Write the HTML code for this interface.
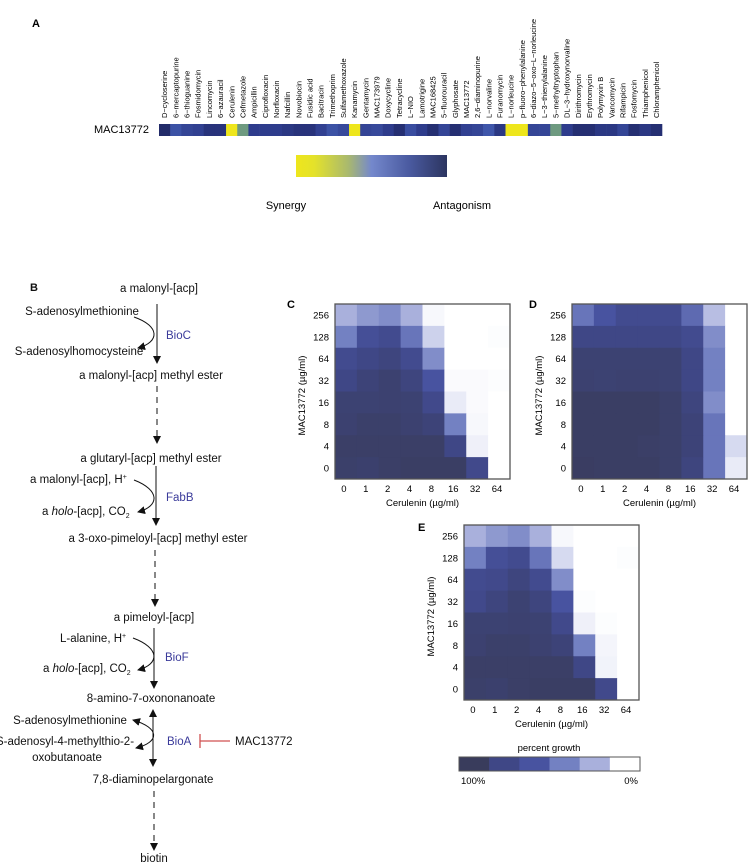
<!DOCTYPE html>
<html><head><meta charset="utf-8"><style>
html,body{margin:0;padding:0;background:#fff;}
svg{display:block;font-family:"Liberation Sans",Arial,sans-serif;}
</style></head><body>
<svg id="fig" width="748" height="867" viewBox="0 0 748 867" xmlns="http://www.w3.org/2000/svg">
<defs>
<linearGradient id="cbar" x1="0" x2="1" y1="0" y2="0">
<stop offset="0" stop-color="#eee61c"/><stop offset="0.12" stop-color="#e4e22a"/><stop offset="0.35" stop-color="#a8b870"/><stop offset="0.5" stop-color="#7488cc"/><stop offset="0.75" stop-color="#4a5aa0"/><stop offset="1" stop-color="#2c3560"/>
</linearGradient>
<marker id="ah" markerWidth="8" markerHeight="8" refX="7" refY="4" orient="auto" markerUnits="userSpaceOnUse"><path d="M0,0 L8,4 L0,8 z" fill="#111"/></marker>
<marker id="ahs" markerWidth="8" markerHeight="8" refX="7" refY="4" orient="auto-start-reverse" markerUnits="userSpaceOnUse"><path d="M0,0 L8,4 L0,8 z" fill="#111"/></marker>
</defs>
<g id="panelA">
<text x="32" y="27" font-size="11" font-weight="bold">A</text>
<text x="149" y="133" font-size="11" text-anchor="end">MAC13772</text>
<g id="strip"></g>
<g id="druglabels"></g>
<rect x="296" y="155" width="151" height="22" fill="url(#cbar)"/>
<text x="286" y="209" font-size="11" text-anchor="middle">Synergy</text>
<text x="462" y="209" font-size="11" text-anchor="middle">Antagonism</text>
</g>
<g id="panelB" font-size="11.5" fill="#111">
<text x="30" y="291" font-size="11" font-weight="bold">B</text>
<text x="159" y="292" text-anchor="middle">a malonyl-[acp]</text>
<text x="82" y="315" text-anchor="middle">S-adenosylmethionine</text>
<text x="166" y="339" fill="#3a3a9a">BioC</text>
<text x="79" y="355" text-anchor="middle">S-adenosylhomocysteine</text>
<line x1="157" y1="304" x2="157" y2="363" stroke="#111" stroke-width="1" marker-end="url(#ah)"/>
<path d="M134,317 C160,326 160,342 138,348" fill="none" stroke="#111" stroke-width="1" marker-end="url(#ah)"/>
<text x="151" y="379" text-anchor="middle">a malonyl-[acp] methyl ester</text>
<line x1="157" y1="386" x2="157" y2="443" stroke="#111" stroke-width="1" stroke-dasharray="6,5" marker-end="url(#ah)"/>
<text x="151" y="462" text-anchor="middle">a glutaryl-[acp] methyl ester</text>
<text x="30" y="483">a malonyl-[acp], H<tspan font-size="7" dy="-4">+</tspan></text>
<text x="166" y="501" fill="#3a3a9a">FabB</text>
<text x="42" y="515">a <tspan font-style="italic">holo</tspan>-[acp], CO<tspan font-size="7" dy="3">2</tspan></text>
<line x1="156" y1="466" x2="156" y2="525" stroke="#111" stroke-width="1" marker-end="url(#ah)"/>
<path d="M134,480 C160,490 160,506 138,512" fill="none" stroke="#111" stroke-width="1" marker-end="url(#ah)"/>
<text x="158" y="542" text-anchor="middle">a 3-oxo-pimeloyl-[acp] methyl ester</text>
<line x1="155" y1="550" x2="155" y2="606" stroke="#111" stroke-width="1" stroke-dasharray="6,5" marker-end="url(#ah)"/>
<text x="154" y="621" text-anchor="middle">a pimeloyl-[acp]</text>
<text x="60" y="642">L-alanine, H<tspan font-size="7" dy="-4">+</tspan></text>
<text x="165" y="661" fill="#3a3a9a">BioF</text>
<text x="43" y="672">a <tspan font-style="italic">holo</tspan>-[acp], CO<tspan font-size="7" dy="3">2</tspan></text>
<line x1="154" y1="628" x2="154" y2="688" stroke="#111" stroke-width="1" marker-end="url(#ah)"/>
<path d="M133,638 C160,648 160,664 138,670" fill="none" stroke="#111" stroke-width="1" marker-end="url(#ah)"/>
<text x="151" y="702" text-anchor="middle">8-amino-7-oxononanoate</text>
<text x="70" y="724" text-anchor="middle">S-adenosylmethionine</text>
<text x="65" y="745" text-anchor="middle">S-adenosyl-4-methylthio-2-</text>
<text x="67" y="761" text-anchor="middle">oxobutanoate</text>
<text x="167" y="745" fill="#3a3a9a">BioA</text>
<line x1="153" y1="710" x2="153" y2="766" stroke="#111" stroke-width="1" marker-start="url(#ahs)" marker-end="url(#ah)"/>
<path d="M133,720 C160,728 160,742 136,748" fill="none" stroke="#111" stroke-width="1" marker-start="url(#ahs)" marker-end="url(#ah)"/>
<line x1="200" y1="741" x2="230" y2="741" stroke="#d05050" stroke-width="1.3"/>
<line x1="200" y1="734" x2="200" y2="748" stroke="#d05050" stroke-width="1.3"/>
<text x="235" y="745">MAC13772</text>
<text x="153" y="783" text-anchor="middle">7,8-diaminopelargonate</text>
<line x1="154" y1="791" x2="154" y2="850" stroke="#111" stroke-width="1" stroke-dasharray="6,5" marker-end="url(#ah)"/>
<text x="154" y="862" text-anchor="middle">biotin</text>
</g>
<g id="heatC"></g>
<g id="heatD"></g>
<g id="heatE"></g>
<g id="legendE">
<text x="549" y="751" font-size="9.5" text-anchor="middle">percent growth</text>
<g id="legSw"></g>
<text x="461" y="784" font-size="9.5">100%</text>
<text x="638" y="784" font-size="9.5" text-anchor="end">0%</text>
</g>
</svg>
<script>
// ---- Panel A data ----
const drugs = ["D−cycloserine","6−mercaptopurine","6−thioguanine","Fosmidomycin","Lincomycin","6−azauracil","Cerulenin","Cefmetazole","Ampicillin","Ciprofloxacin","Norfloxacin","Nafcillin","Novobiocin","Fusidic acid","Bacitracin","Trimethoprim","Sulfamethoxazole","Kanamycin","Gentamycin","MAC173979","Doxycycline","Tetracycline","L−NIO","Lamotrigine","MAC168425","5−fluorouracil","Glyphosate","MAC13772","2,6−diaminopurine","L−norvaline","Furanomycin","L−norleucine","p−fluoro−phenylalanine","6−diazo−5−oxo−L−norleucine","L−3−thienylalanine","5−methyltryptophan","DL−3−hydroxynorvaline","Dirithromycin","Erythromycin","Polymyxin B","Vancomycin","Rifampicin","Fosfomycin","Thiamphenicol","Chloramphenicol"];
const interaction = [0.9,0.45,0.6,0.65,0.8,0.8,-1,-0.3,0.7,0.7,0.7,0.75,0.8,0.8,0.65,0.45,0.55,-1,0.6,0.55,0.7,0.85,0.5,0.7,0.85,0.6,0.85,0.65,0.6,0.4,0.75,-1,-1,0.6,0.6,-0.3,0.7,0.85,0.85,0.75,0.75,0.6,0.85,0.75,0.85];
// ---- Checkerboard data (rows top->bottom = MAC13772 256..0; cols = cerulenin 0..64) ----
const rowLabels = ["256","128","64","32","16","8","4","0"];
const colLabels = ["0","1","2","4","8","16","32","64"];
const growthC = [
[.30,.40,.45,.30,.03,0,0,0],
[.50,.75,.80,.55,.18,0,0,.01],
[.80,.85,.88,.80,.45,0,0,0],
[.85,.90,.93,.88,.70,.02,.02,.01],
[.92,.92,.93,.92,.82,.08,.02,0],
[.93,.95,.95,.93,.90,.50,.03,0],
[.96,.96,.96,.96,.96,.85,.06,0],
[.95,.94,.96,.97,.97,.97,.82,0]];
const growthD = [
[.55,.70,.80,.80,.80,.60,.25,0],
[.85,.85,.85,.85,.85,.80,.45,0],
[.92,.92,.92,.92,.92,.85,.50,0],
[.93,.92,.93,.93,.92,.85,.50,0],
[.97,.97,.97,.97,.95,.88,.45,0],
[.97,.97,.97,.97,.95,.90,.55,0],
[.97,.97,.97,.96,.95,.90,.55,.15],
[.98,.97,.97,.97,.95,.88,.55,.08]];
const growthE = [
[.30,.40,.45,.30,.03,0,0,0],
[.50,.75,.80,.55,.15,0,0,.01],
[.80,.82,.88,.80,.45,0,0,0],
[.82,.88,.92,.88,.70,.01,0,0],
[.92,.92,.93,.92,.82,.06,.01,0],
[.93,.95,.95,.93,.90,.50,.04,0],
[.96,.96,.96,.96,.96,.85,.05,0],
[.95,.94,.96,.97,.97,.97,.82,0]];
const legendLevels = [1.0,0.85,0.7,0.5,0.3,0];

const NS="http://www.w3.org/2000/svg";
function mk(tag,attrs,parent){const e=document.createElementNS(NS,tag);for(const k in attrs)e.setAttribute(k,attrs[k]);parent.appendChild(e);return e;}
function hex(h){return [parseInt(h.slice(1,3),16),parseInt(h.slice(3,5),16),parseInt(h.slice(5,7),16)];}
function interp(stops,v){
  if(v<=stops[0][0])return stops[0][1];
  for(let i=1;i<stops.length;i++){if(v<=stops[i][0]){const a=stops[i-1],b=stops[i];const t=(v-a[0])/(b[0]-a[0]);const c1=hex(a[1]),c2=hex(b[1]);return "rgb("+c1.map((c,j)=>Math.round(c+(c2[j]-c)*t)).join(",")+")";}}
  return stops[stops.length-1][1];
}
const stripStops=[[-1,"#eee61c"],[-0.6,"#c6cc4c"],[-0.3,"#6e9a80"],[0,"#7488cc"],[0.4,"#3f56aa"],[0.7,"#2e3c8c"],[1,"#1c2258"]];
const growthStops=[[0,"#ffffff"],[0.15,"#d6daf0"],[0.3,"#a9b0dc"],[0.5,"#7381c2"],[0.7,"#4853a0"],[0.85,"#3f4786"],[1,"#393c5c"]];

// Panel A strip
const sx0=159, sx1=662, sy=124, sh=12;
const xStrip=i=>sx0+(sx1-sx0)*i/drugs.length;
const cw=(sx1-sx0)/drugs.length;
const strip=document.getElementById('strip'), dl=document.getElementById('druglabels');
interaction.forEach((v,i)=>{
  const r=mk('rect',{x:xStrip(i),y:sy,width:cw+0.3,height:sh,fill:interp(stripStops,v)},strip);
  
  
});
drugs.forEach((d,i)=>{
  const cx=xStrip(i)+cw/2+2.6;
  const t=mk('text',{x:cx,y:118,'font-size':7.5,'text-anchor':'start',transform:'rotate(-90 '+cx+' 118)'},dl);
  t.textContent=d;
  
  
});

// Heatmaps
function heat(gid,data,x0,y0,label,lx,ly){
  const g=document.getElementById(gid);
  const W=175,H=175,n=8;
  const xs=j=>x0+W*j/n, ys=i=>y0+H*i/n;
  data.forEach((row,i)=>row.forEach((v,j)=>{
    const r=mk('rect',{x:xs(j),y:ys(i),width:W/n+0.4,height:H/n+0.4,fill:interp(growthStops,v)},g);
    
    
  }));
  mk('rect',{x:x0,y:y0,width:W,height:H,fill:'none',stroke:'#555','stroke-width':1.3},g);
  rowLabels.forEach((l,i)=>{const t=mk('text',{x:x0-6,y:ys(i)+H/n/2+3.5,'font-size':9.5,'text-anchor':'end'},g);t.textContent=l;
    
    });
  colLabels.forEach((l,j)=>{const t=mk('text',{x:xs(j)+W/n/2-2,y:y0+H+13,'font-size':9.5,'text-anchor':'middle'},g);t.textContent=l;
    
    });
  const xt=mk('text',{x:x0+W/2,y:y0+H+27,'font-size':9.5,'text-anchor':'middle'},g);xt.textContent='Cerulenin (µg/ml)';
  
  
  const yx=x0-30,yy=y0+H/2+4;
  const yt=mk('text',{x:yx,y:yy,'font-size':9.5,'text-anchor':'middle',transform:'rotate(-90 '+yx+' '+yy+')'},g);yt.textContent='MAC13772 (µg/ml)';
  
  
  const pl=mk('text',{x:lx,y:ly,'font-size':11,'font-weight':'bold'},g);pl.textContent=label;
  
  
}
heat('heatC',growthC,335,304,'C',287,308);
heat('heatD',growthD,572,304,'D',529,308);
heat('heatE',growthE,464,525,'E',418,531);

// legend swatches
const lg=document.getElementById('legSw');
const lx0=459,lw=181;
legendLevels.forEach((v,i)=>{
  const r=mk('rect',{x:lx0+lw*i/legendLevels.length,y:757,width:lw/legendLevels.length+0.3,height:14,fill:interp(growthStops,v)},lg);
  
  
});
mk('rect',{x:lx0,y:757,width:lw,height:14,fill:'none',stroke:'#555','stroke-width':1},lg);
</script>
</body></html>
